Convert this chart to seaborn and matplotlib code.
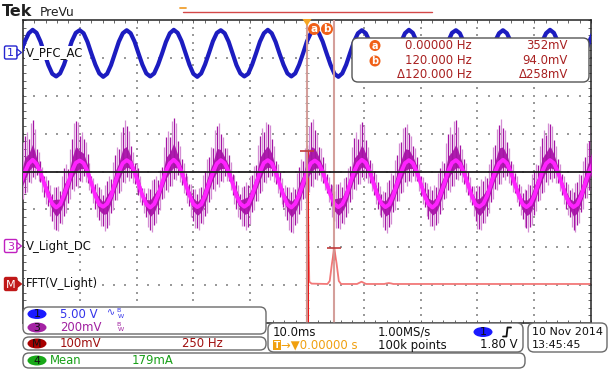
import numpy as np
import pandas as pd
import matplotlib
matplotlib.use("Agg")
import matplotlib.pyplot as plt
import seaborn as sns
from matplotlib.patches import FancyBboxPatch, Ellipse, Polygon, Circle, Rectangle
from matplotlib.ticker import MultipleLocator

SAMPLE_START_MS = -50.37
SAMPLE_STEP_MS = 0.69

# channel 1: V_PFC_AC, in screen divisions
v_pfc_ac_div = [
    3.12, 3.43, 3.65, 3.74, 3.66, 3.43, 3.12, 2.81, 2.58, 2.51, 2.59, 2.82,
    3.13, 3.44, 3.66, 3.73, 3.65, 3.42, 3.11, 2.82, 2.59, 2.50, 2.58, 2.81,
    3.12, 3.43, 3.65, 3.73, 3.65, 3.43, 3.12, 2.82, 2.59, 2.51, 2.59, 2.82,
    3.11, 3.42, 3.65, 3.74, 3.66, 3.44, 3.13, 2.82, 2.58, 2.50, 2.59, 2.83,
    3.13, 3.44, 3.66, 3.73, 3.65, 3.43, 3.12, 2.81, 2.59, 2.51, 2.58, 2.82,
    3.12, 3.43, 3.65, 3.74, 3.65, 3.42, 3.11, 2.82, 2.59, 2.51, 2.59, 2.82,
    3.12, 3.44, 3.66, 3.73, 3.66, 3.43, 3.12, 2.82, 2.58, 2.50, 2.59, 2.82,
    3.13, 3.43, 3.65, 3.73, 3.65, 3.43, 3.13, 2.81, 2.59, 2.51, 2.59, 2.81,
    3.12, 3.42, 3.65, 3.74, 3.66, 3.43, 3.12, 2.82, 2.59, 2.51, 2.58, 2.82,
    3.12, 3.43, 3.66, 3.73, 3.65, 3.42, 3.12, 2.82, 2.58, 2.50, 2.59, 2.82,
    3.13, 3.44, 3.65, 3.73, 3.65, 3.43, 3.11, 2.81, 2.59, 2.51, 2.59, 2.83,
    3.12, 3.43, 3.65, 3.74, 3.66, 3.43, 3.12, 2.82, 2.59, 2.51, 2.58, 2.82,
    3.12, 3.43, 3.65,
]

# channel 3: V_Light_DC, averaged core, in divisions
v_light_core_div = [
    -0.30, -0.02, 0.21, 0.31, 0.20, -0.03, -0.33, -0.62, -0.85, -0.95, -0.87, -0.62,
    -0.33, 0.00, 0.23, 0.29, 0.22, 0.00, -0.31, -0.64, -0.87, -0.93, -0.85, -0.64,
    -0.31, -0.01, 0.22, 0.30, 0.23, -0.02, -0.32, -0.63, -0.86, -0.95, -0.86, -0.62,
    -0.32, 0.01, 0.22, 0.31, 0.21, -0.01, -0.33, -0.62, -0.86, -0.94, -0.87, -0.63,
    -0.31, -0.02, 0.21, 0.30, 0.22, -0.01, -0.31, -0.64, -0.85, -0.93, -0.86, -0.63,
    -0.33, -0.01, 0.23, 0.30, 0.22, -0.02, -0.32, -0.63, -0.87, -0.95, -0.85, -0.62,
    -0.32, 0.00, 0.22, 0.29, 0.21, -0.01, -0.32, -0.62, -0.86, -0.94, -0.86, -0.64,
    -0.31, -0.01, 0.21, 0.31, 0.23, 0.00, -0.33, -0.63, -0.85, -0.94, -0.87, -0.63,
    -0.32, -0.02, 0.22, 0.30, 0.22, -0.01, -0.31, -0.64, -0.86, -0.95, -0.86, -0.62,
    -0.33, 0.00, 0.23, 0.30, 0.21, -0.02, -0.32, -0.63, -0.87, -0.93, -0.85, -0.63,
    -0.31, -0.01, 0.22, 0.31, 0.22, -0.01, -0.33, -0.62, -0.86, -0.94, -0.86, -0.64,
    -0.32, -0.01, 0.21, 0.30, 0.22, -0.01, -0.32, -0.63, -0.85, -0.94, -0.87, -0.63,
    -0.31, 0.00, 0.22,
]

# noise spikes above / below the core, in divisions
v_light_noise_hi = [
    0.60, 0.95, 0.65, 1.05, 0.40, 0.30, 0.20, 0.40, 0.25, 0.55, 0.35, 0.70,
    0.40, 0.85, 1.10, 0.65, 0.65, 0.45, 0.20, 0.30, 0.45, 0.30, 0.60, 0.45,
    0.75, 0.60, 0.95, 0.90, 0.45, 0.25, 0.40, 0.20, 0.30, 0.50, 0.65, 0.40,
    0.45, 0.90, 0.70, 1.10, 0.60, 0.35, 0.30, 0.30, 0.40, 0.35, 0.45, 0.65,
    0.70, 0.65, 1.00, 0.70, 0.40, 0.45, 0.25, 0.40, 0.25, 0.55, 0.50, 0.55,
    0.50, 0.95, 0.80, 0.95, 0.65, 0.30, 0.30, 0.20, 0.45, 0.40, 0.40, 0.75,
    0.60, 0.70, 1.10, 0.80, 0.45, 0.40, 0.25, 0.30, 0.35, 0.60, 0.45, 0.50,
    0.45, 0.90, 0.65, 1.00, 0.60, 0.30, 0.35, 0.35, 0.25, 0.40, 0.65, 0.55,
    0.75, 0.80, 0.95, 0.70, 0.45, 0.40, 0.20, 0.35, 0.40, 0.45, 0.45, 0.70,
    0.55, 1.00, 0.75, 1.05, 0.50, 0.35, 0.30, 0.25, 0.35, 0.55, 0.60, 0.45,
    0.65, 0.70, 1.00, 0.85, 0.55, 0.30, 0.30, 0.30, 0.30, 0.45, 0.50, 0.65,
    0.50, 0.90, 0.75, 0.95, 0.60, 0.35, 0.25, 0.35, 0.35, 0.40, 0.60, 0.55,
    0.70, 0.80, 0.95,
]
v_light_noise_lo = [
    0.40, 0.55, 0.50, 0.45, 0.30, 0.25, 0.35, 0.30, 0.45, 0.60, 0.50, 0.55,
    0.50, 0.45, 0.60, 0.55, 0.35, 0.30, 0.25, 0.35, 0.40, 0.50, 0.65, 0.45,
    0.45, 0.55, 0.50, 0.45, 0.40, 0.30, 0.30, 0.25, 0.35, 0.60, 0.55, 0.50,
    0.40, 0.50, 0.60, 0.50, 0.30, 0.35, 0.30, 0.30, 0.45, 0.55, 0.50, 0.55,
    0.50, 0.45, 0.55, 0.55, 0.35, 0.25, 0.30, 0.35, 0.40, 0.50, 0.60, 0.45,
    0.45, 0.55, 0.50, 0.45, 0.35, 0.30, 0.35, 0.30, 0.40, 0.65, 0.55, 0.50,
    0.40, 0.50, 0.60, 0.50, 0.30, 0.30, 0.25, 0.30, 0.45, 0.55, 0.50, 0.55,
    0.50, 0.45, 0.55, 0.45, 0.40, 0.30, 0.30, 0.35, 0.35, 0.60, 0.60, 0.45,
    0.45, 0.55, 0.50, 0.55, 0.35, 0.25, 0.35, 0.30, 0.40, 0.50, 0.55, 0.50,
    0.40, 0.50, 0.60, 0.50, 0.30, 0.30, 0.30, 0.25, 0.45, 0.60, 0.50, 0.55,
    0.50, 0.45, 0.55, 0.45, 0.35, 0.35, 0.25, 0.30, 0.40, 0.55, 0.60, 0.50,
    0.45, 0.55, 0.50, 0.50, 0.40, 0.30, 0.30, 0.35, 0.35, 0.60, 0.55, 0.45,
    0.40, 0.50, 0.55,
]

# math channel M: FFT(V_Light)
fft_freq_hz = [0, 0, 10, 20, 90, 100, 110, 120, 130, 140, 150, 220, 230, 240,
               250, 260, 340, 350, 360, 370, 380, 2500]
fft_mag_mv = [-200, 352, 6, 1, 0, 8, 55, 94, 55, 8, 0, 0, 3, 6,
              3, 0, 0, 1.5, 2.5, 1.5, 0, 0]

cursor_labels = ["a", "b"]
cursor_freq_hz = [0.0, 120.0]
cursor_mag_mv = [352.0, 94.0]

MS_PER_DIV = 10.0
HZ_PER_DIV = 250.0
MV_PER_DIV_M = 100.0
M_OFFSET_DIV = -2.97

# ---------------- figure ----------------
sns.set_style("white")
plt.rcParams["font.family"] = ["DejaVu Sans"]

W, H = 610, 369
fig = plt.figure(figsize=(W / 100, H / 100), dpi=100)
fig.patch.set_facecolor("white")

ax = fig.add_axes([23 / W, 1 - 323 / H, 568 / W, 303 / H])
ax.set_xlim(-50, 50)
ax.set_ylim(-4, 4)
ax.set_facecolor("white")

# graticule dots
ys_minor = np.arange(-4, 4.001, 0.2)
xs_minor = np.arange(-50, 50.001, 2)
for gx in range(-40, 41, 10):
    ax.scatter(np.full_like(ys_minor, gx), ys_minor, s=0.9, marker="s",
               color="#9a9a9a", linewidths=0, zorder=1)
for gy in range(-3, 4):
    ax.scatter(xs_minor, np.full_like(xs_minor, gy), s=0.9, marker="s",
               color="#9a9a9a", linewidths=0, zorder=1)
ax.scatter(np.zeros_like(ys_minor), ys_minor, s=8, marker="_",
           color="#9a9a9a", linewidths=0.7, zorder=1)

ax.xaxis.set_major_locator(MultipleLocator(10))
ax.xaxis.set_minor_locator(MultipleLocator(2))
ax.yaxis.set_major_locator(MultipleLocator(1))
ax.yaxis.set_minor_locator(MultipleLocator(0.2))
ax.tick_params(which="both", direction="in", top=True, right=True, bottom=True,
               left=True, labelbottom=False, labelleft=False, length=2.5,
               width=0.7, color="#666666")
for sp in ax.spines.values():
    sp.set_color("#222222")
    sp.set_linewidth(1.1)
ax.set_xlabel("")
ax.set_ylabel("")

t = SAMPLE_START_MS + SAMPLE_STEP_MS * np.arange(len(v_pfc_ac_div))

# FFT trace
fx = np.array(fft_freq_hz, float) * MS_PER_DIV / HZ_PER_DIV
fy = np.array(fft_mag_mv, float) / MV_PER_DIV_M + M_OFFSET_DIV
sns.lineplot(x=fx, y=fy, ax=ax, sort=False, estimator=None, color="#f27878",
             lw=1.3, zorder=2.5)
sns.lineplot(x=fx[:2], y=fy[:2], ax=ax, sort=False, estimator=None,
             color="#ee1111", lw=2.2, zorder=2.6)
sns.lineplot(x=[fx[7], fx[7]], y=[fy[7], fy[7] - 0.3], ax=ax, sort=False,
             estimator=None, color="#e01010", lw=1.6, zorder=2.6)

# channel 3 (magenta)
core = np.array(v_light_core_div)
hi = np.array(v_light_noise_hi)
lo = np.array(v_light_noise_lo)
tm = (t[:-1] + t[1:]) / 2
cm = (core[:-1] + core[1:]) / 2
ax.vlines(tm, cm - (lo[:-1] + lo[1:]) * 0.6, cm + (hi[:-1] + hi[1:]) * 0.6,
          color="#d38cd3", lw=0.9, zorder=3)
ax.fill_between(t, core - lo * 0.4, core + hi * 0.4, color="#ad1cad",
                lw=0, zorder=3.2)
ax.vlines(t, core - lo, core + hi, color="#a414a4", lw=0.9, zorder=3.3)
sns.lineplot(x=t, y=core, ax=ax, sort=False, estimator=None, color="#ff22ff",
             lw=2.8, zorder=3.5)

# channel 1 (blue)
sns.lineplot(x=t, y=np.array(v_pfc_ac_div), ax=ax, sort=False, estimator=None,
             color="#1c1cc0", lw=3.0, zorder=4)

# centre horizontal line
ax.axhline(0, color="#1e1e1e", lw=1.3, zorder=6)

# cursors
cx = np.array(cursor_freq_hz) * MS_PER_DIV / HZ_PER_DIV
cy = np.array(cursor_mag_mv) / MV_PER_DIV_M + M_OFFSET_DIV
for x0, y0 in zip(cx, cy):
    ax.axvline(x0, color="#d29a96", lw=1.5, zorder=5, alpha=0.95)
    ax.hlines(y0, x0 - 1.25, x0 + 1.25, color="#c03a3a", lw=1.2, zorder=6)

if ax.get_legend():
    ax.get_legend().remove()

# ---------------- overlay (pixel coords) ----------------
ov = fig.add_axes([0, 0, 1, 1], zorder=10)
ov.set_xlim(0, W)
ov.set_ylim(H, 0)
ov.axis("off")
ov.patch.set_alpha(0)

FS = 8.4

ov.text(2, 12, "Tek", fontsize=11.5, fontweight="bold", color="#202020",
        va="center", ha="left")
ov.text(40, 12, "PreVu", fontsize=8.8, color="#202020", va="center", ha="left")
ov.plot([183, 432], [12, 12], color="#d44848", lw=1.0)
ov.plot([180, 186], [8, 8], color="#f0a030", lw=1.3)

# trigger marker
ov.add_patch(Polygon([(302.5, 19), (311.5, 19), (307, 26)], closed=True,
                     fc="#f5a623", ec="none"))
# cursor markers
for lab, xp in zip(cursor_labels, [314, 327]):
    ov.add_patch(Circle((xp, 29), 6, fc="#f06018", ec="none"))
    ov.text(xp, 29.3, lab, fontsize=7.5, fontweight="bold", color="white",
            ha="center", va="center")

# cursor readout box
ov.add_patch(FancyBboxPatch((352, 38), 237, 44,
                            boxstyle="round,pad=0,rounding_size=6",
                            fc="white", ec="#555555", lw=1))
red = "#a82020"
rows_y = [45.5, 61, 74.5]
for lab, yy in zip(cursor_labels, rows_y[:2]):
    ov.add_patch(Circle((375, yy), 5.5, fc="#f06018", ec="none"))
    ov.text(375, yy + 0.3, lab, fontsize=7, fontweight="bold", color="white",
            ha="center", va="center")
ov.text(472, rows_y[0], f"{cursor_freq_hz[0]:.5f} Hz", fontsize=FS,
        color=red, ha="right", va="center")
ov.text(568, rows_y[0], f"{cursor_mag_mv[0]:.0f}mV", fontsize=FS,
        color=red, ha="right", va="center")
ov.text(472, rows_y[1], f"{cursor_freq_hz[1]:.3f} Hz", fontsize=FS,
        color=red, ha="right", va="center")
ov.text(568, rows_y[1], f"{cursor_mag_mv[1]:.1f}mV", fontsize=FS,
        color=red, ha="right", va="center")
ov.text(472, rows_y[2], f"\u0394{cursor_freq_hz[1]-cursor_freq_hz[0]:.3f} Hz",
        fontsize=FS, color=red, ha="right", va="center")
ov.text(568, rows_y[2], f"\u0394{cursor_mag_mv[0]-cursor_mag_mv[1]:.0f}mV",
        fontsize=FS, color=red, ha="right", va="center")

# channel labels on the left
def ch_marker(y, label, color, filled):
    fc = color if filled else "white"
    tc = "white" if filled else color
    ov.add_patch(FancyBboxPatch((4.5, y - 6.5), 12.5, 13,
                                boxstyle="round,pad=0,rounding_size=1.5",
                                fc=fc, ec=color, lw=1))
    ov.add_patch(Polygon([(17, y - 3.5), (21.5, y), (17, y + 3.5)], closed=True,
                         fc=fc, ec=color, lw=0.9))
    ov.text(10.8, y + 0.5, label, fontsize=8, color=tc, ha="center",
            va="center")

ch_marker(52.5, "1", "#2525d0", False)
ch_marker(246, "3", "#c020c0", False)
ch_marker(284, "M", "#c01818", True)
for yy, txt in [(53, "V_PFC_AC"), (246.5, "V_Light_DC"), (284, "FFT(V_Light)")]:
    ov.text(26, yy, txt, fontsize=FS, color="#111111", ha="left", va="center",
            bbox=dict(fc="white", ec="none", pad=0.6))

# bottom boxes
def rbox(x0, y0, x1, y1):
    ov.add_patch(FancyBboxPatch((x0, y0), x1 - x0, y1 - y0,
                                boxstyle="round,pad=0,rounding_size=6",
                                fc="white", ec="#6a6a6a", lw=1))

def pill(xc, yc, label, color):
    ov.add_patch(Ellipse((xc, yc), 19, 10, fc=color, ec="none"))
    ov.text(xc, yc + 0.4, label, fontsize=7.8, color="#111111", ha="center",
            va="center")

rbox(23, 307, 266, 334)
rbox(23, 337, 266, 350)
rbox(23, 353, 525, 368)
rbox(268, 323, 523, 352)
rbox(528, 323, 607, 352)

blue_t = "#3434ea"
purp_t = "#a020a0"
dred_t = "#a01010"
green_t = "#18a018"
orange_t = "#f0a010"

pill(37, 314, "1", "#1a1aff")
ov.text(60, 314, "5.00 V", fontsize=FS, color=blue_t, ha="left", va="center")
ov.text(107, 312.5, "\u223f", fontsize=7, color=blue_t, ha="left", va="center")
ov.text(116, 311, "B", fontsize=4.5, color=blue_t, ha="left", va="center")
ov.text(118, 316, "W", fontsize=4.5, color=blue_t, ha="left", va="center")

pill(37, 327.5, "3", "#a422a4")
ov.text(60, 327.5, "200mV", fontsize=FS, color=purp_t, ha="left", va="center")
ov.text(116, 324.5, "B", fontsize=4.5, color=purp_t, ha="left", va="center")
ov.text(118, 329.5, "W", fontsize=4.5, color=purp_t, ha="left", va="center")

pill(37, 343.5, "M", "#a80000")
ov.text(60, 343.5, "100mV", fontsize=FS, color=dred_t, ha="left", va="center")
ov.text(182, 343.5, "250 Hz", fontsize=FS, color=dred_t, ha="left",
        va="center")

pill(37, 360.5, "4", "#18a818")
ov.text(50, 360.5, "Mean", fontsize=FS, color=green_t, ha="left", va="center")
ov.text(132, 360.5, "179mA", fontsize=FS, color=green_t, ha="left",
        va="center")

ov.text(273, 332, "10.0ms", fontsize=FS, color="#111111", ha="left",
        va="center")
ov.text(378, 332, "1.00MS/s", fontsize=FS, color="#111111", ha="left",
        va="center")
ov.add_patch(Ellipse((483, 332), 19, 10, fc="#1a1aff", ec="none"))
ov.text(483, 332.4, "1", fontsize=7.8, color="#111111", ha="center",
        va="center")
ov.plot([503, 506.5, 507.5, 511], [336.5, 336.5, 327.5, 327.5],
        color="#111111", lw=1.3)

ov.add_patch(Rectangle((272.5, 340), 8, 10, fc="#f0a010", ec="none"))
ov.text(276.5, 345.3, "T", fontsize=6.5, color="white", ha="center",
        va="center", fontweight="bold")
ov.text(281, 345, "\u2192\u25bc0.00000 s", fontsize=FS, color=orange_t,
        ha="left", va="center")
ov.text(378, 345, "100k points", fontsize=FS, color="#111111", ha="left",
        va="center")
ov.text(518, 345, "1.80 V", fontsize=FS, color="#111111", ha="right",
        va="center")

ov.text(532, 332, "10 Nov 2014", fontsize=8.0, color="#111111", ha="left",
        va="center")
ov.text(532, 345, "13:45:45", fontsize=8.0, color="#111111", ha="left",
        va="center")

fig.savefig("out.png", dpi=100, facecolor="white")
